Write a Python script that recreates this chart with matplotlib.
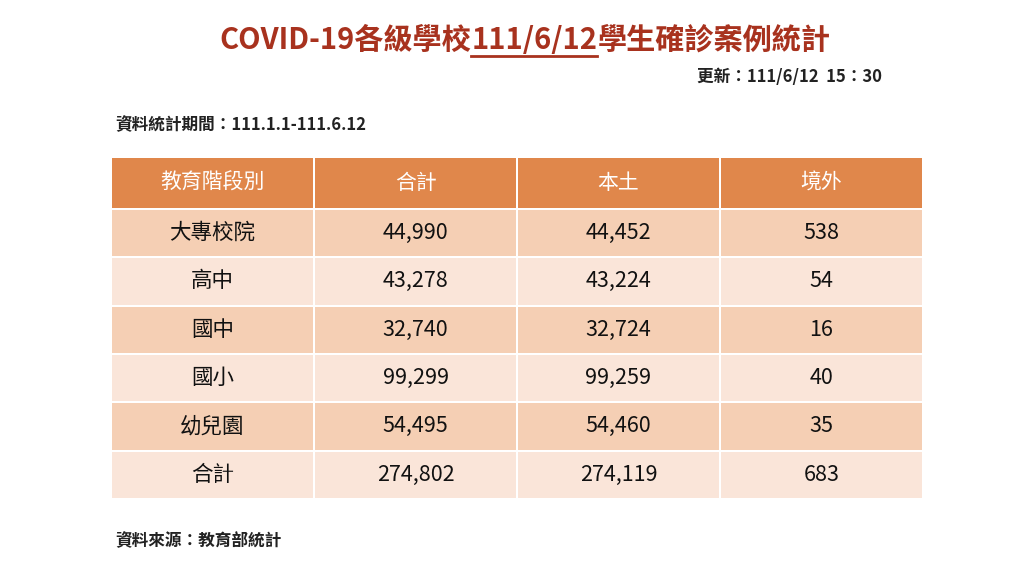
import matplotlib
matplotlib.use("Agg")
import matplotlib.pyplot as plt
from matplotlib.patches import Rectangle

FONT = "Noto Sans CJK TC"
headers = ["教育階段別", "合計", "本土", "境外"]
levels = ["大專校院", "高中", "國中", "國小", "幼兒園", "合計"]
total = ["44,990", "43,278", "32,740", "99,299", "54,495", "274,802"]
local = ["44,452", "43,224", "32,724", "99,259", "54,460", "274,119"]
abroad = ["538", "54", "16", "40", "35", "683"]

fig = plt.figure(figsize=(10.24, 5.76), dpi=100)
ax = fig.add_axes([0, 0, 1, 1])
ax.set_xlim(0, 1024); ax.set_ylim(576, 0); ax.axis("off")

# title in three parts, middle underlined
red = "#A8321E"
parts = ["COVID-19各級學校", "111/6/12", "學生確診案例統計"]
fig.canvas.draw()
r = fig.canvas.get_renderer()
texts = [ax.text(0, 40, p, fontsize=21, fontweight="bold", color=red,
                 family=FONT, va="center", ha="left") for p in parts]
inv = ax.transData.inverted()
widths = []
for t in texts:
    bb = t.get_window_extent(r)
    widths.append(bb.width)
tot = sum(widths)
x = 525 * 1 - tot / 2  # pixel = data units here
for t, w in zip(texts, widths):
    t.set_x(x)
    if t is texts[1]:
        ax.plot([x, x + w], [56, 56], color=red, lw=2)
    x += w

ax.text(882, 77, "更新：111/6/12  15：30", fontsize=12, fontweight="bold",
        family=FONT, ha="right", va="center", color="#222222")
ax.text(115, 125, "資料統計期間：111.1.1-111.6.12", fontsize=12, fontweight="bold",
        family=FONT, ha="left", va="center", color="#222222")
ax.text(115, 541, "資料來源：教育部統計", fontsize=12, fontweight="bold",
        family=FONT, ha="left", va="center", color="#222222")

x0, cw, gap = 112, 203, 2
y0, hh, rh = 158, 52, 48.3
for j, h in enumerate(headers):
    cx = x0 + j * cw
    ax.add_patch(Rectangle((cx, y0), cw - gap, hh - gap, color="#E0874B", lw=0))
    ax.text(cx + (cw - gap) / 2, y0 + (hh - gap) / 2, h, color="white", fontsize=15,
            family=FONT, ha="center", va="center")
for i, row in enumerate(zip(levels, total, local, abroad)):
    cy = y0 + hh + i * rh
    col = "#F5CFB4" if i % 2 == 0 else "#FAE5D9"
    for j, v in enumerate(row):
        cx = x0 + j * cw
        ax.add_patch(Rectangle((cx, cy), cw - gap, rh - gap, color=col, lw=0))
        ax.text(cx + (cw - gap) / 2, cy + (rh - gap) / 2, v, color="#111111",
                fontsize=15.5, family=FONT, ha="center", va="center")

fig.savefig("out.png", dpi=100)
